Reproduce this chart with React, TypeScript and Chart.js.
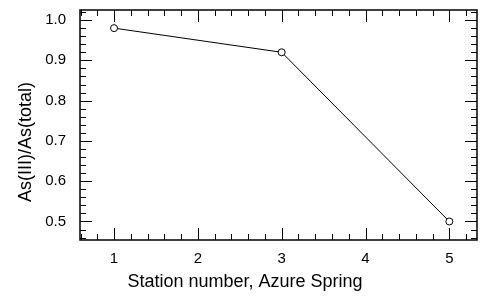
import React, { useEffect, useRef } from "react";
import { Chart, registerables } from "chart.js";

Chart.register(...registerables);

const stations = [1, 3, 5];
const ratios = [0.98, 0.92, 0.5];
const xTickLabels = [1, 2, 3, 4, 5];
const yTickLabels = [0.5, 0.6, 0.7, 0.8, 0.9, 1.0];
const xTitle = "Station number, Azure Spring";
const yTitle = "As(III)/As(total)";

const FONT = "'Liberation Sans', Arial, sans-serif";

const framePlugin = {
  id: "frameTicks",
  afterDraw(chart: any) {
    const { ctx, chartArea } = chart;
    const { left, right, top, bottom } = chartArea;
    const xs = chart.scales.x;
    const ys = chart.scales.y;
    ctx.save();
    ctx.strokeStyle = "#000";
    ctx.lineWidth = 1.5;
    ctx.strokeRect(left, top, right - left, bottom - top);
    ctx.lineWidth = 1;
    const major = 12;
    const minor = 6;
    ctx.beginPath();
    for (let i = 3; i <= 26; i++) {
      const v = i * 0.2;
      if (v < xs.min || v > xs.max) continue;
      const isMajor = i % 5 === 0;
      const len = isMajor ? major : minor;
      const px = Math.round(xs.getPixelForValue(v)) + 0.5;
      ctx.moveTo(px, bottom);
      ctx.lineTo(px, bottom - len);
      ctx.moveTo(px, top);
      ctx.lineTo(px, top + len);
    }
    for (let i = 22; i <= 52; i++) {
      const v = i * 0.02;
      if (v < ys.min || v > ys.max) continue;
      const isMajor = i % 5 === 0;
      const len = isMajor ? major : minor;
      const py = Math.round(ys.getPixelForValue(v)) + 0.5;
      ctx.moveTo(left, py);
      ctx.lineTo(left + len, py);
      ctx.moveTo(right, py);
      ctx.lineTo(right - len, py);
    }
    ctx.stroke();

    ctx.fillStyle = "#000";
    ctx.font = `18px ${FONT}`;
    ctx.textAlign = "center";
    ctx.textBaseline = "alphabetic";
    ctx.fillText(xTitle, 245, 287);
    ctx.translate(31, 142);
    ctx.rotate(-Math.PI / 2);
    ctx.fillText(yTitle, 0, 0);
    ctx.restore();
  },
};

export default function App() {
  const ref = useRef<HTMLCanvasElement>(null);
  useEffect(() => {
    if (!ref.current) return;
    const chart = new Chart(ref.current, {
      type: "line",
      data: {
        datasets: [
          {
            data: stations.map((s, i) => ({ x: s, y: ratios[i] })),
            borderColor: "#000",
            borderWidth: 1,
            backgroundColor: "#fff",
            pointRadius: 3.5,
            pointBorderWidth: 1,
            pointBorderColor: "#000",
            pointBackgroundColor: "#fff",
            tension: 0,
          },
        ],
      },
      options: {
        responsive: false,
        animation: false,
        layout: { padding: { top: 10, right: 6, left: 0, bottom: 0 } },
        plugins: { legend: { display: false }, tooltip: { enabled: false } },
        scales: {
          x: {
            type: "linear",
            min: 0.594,
            max: 5.33,
            grid: { display: false, drawTicks: false },
            border: { display: false },
            afterBuildTicks: (s: any) => {
              s.ticks = xTickLabels.map((v) => ({ value: v }));
            },
            afterFit: (s: any) => {
              s.height = 64;
              s.paddingLeft = 0;
              s.paddingRight = 0;
            },
            ticks: {
              padding: 10,
              color: "#000",
              font: { family: FONT, size: 15 },
              maxRotation: 0,
              callback: (v: any) => String(v),
            },
          },
          y: {
            type: "linear",
            min: 0.454,
            max: 1.025,
            grid: { display: false, drawTicks: false },
            border: { display: false },
            afterBuildTicks: (s: any) => {
              s.ticks = yTickLabels.map((v) => ({ value: v }));
            },
            afterFit: (s: any) => {
              s.width = 80;
              s.paddingTop = 0;
              s.paddingBottom = 0;
            },
            ticks: {
              padding: 14,
              color: "#000",
              font: { family: FONT, size: 15 },
              callback: (v: any) => Number(v).toFixed(1),
            },
          },
        },
      },
      plugins: [framePlugin],
    });
    return () => chart.destroy();
  }, []);
  return (
    <div style={{ position: "absolute", left: 0, top: 0, width: 483, height: 304, background: "#fff" }}>
      <canvas ref={ref} width={483} height={304} style={{ display: "block" }} />
    </div>
  );
}
